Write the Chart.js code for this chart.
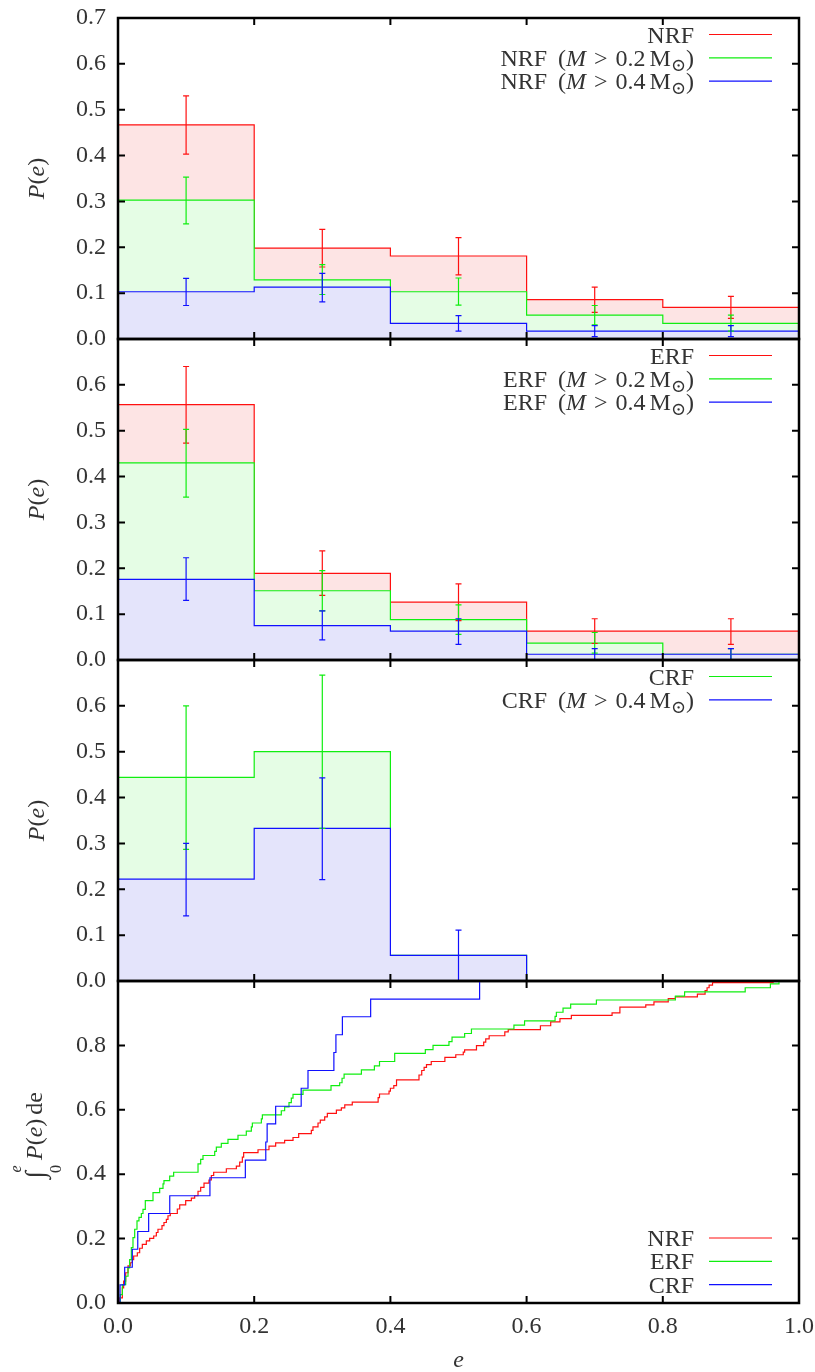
<!DOCTYPE html>
<html lang="en">
<head>
<meta charset="UTF-8" />
<title>Eccentricity distributions</title>
<script src="https://cdn.jsdelivr.net/npm/chart.js"></script>
<style>
  body { margin: 0; background: #fff; }
  #wrap { position: relative; width: 815px; height: 1372px; overflow: hidden; background: #fff; }
  canvas { position: absolute; left: 0; }
</style>
</head>
<body>
<div id="wrap">
  <canvas id="nrf"></canvas>
  <canvas id="erf"></canvas>
  <canvas id="crf"></canvas>
  <canvas id="cum"></canvas>
</div>
<script>
// histogram bins in e
const binEdges = [0, 0.2, 0.4, 0.6, 0.8, 1.0];
const binCentres = [0.1, 0.3, 0.5, 0.7, 0.9];

// NRF
const nrfAll = [0.467, 0.198, 0.181, 0.086, 0.069];
const nrfAllLo = [0.403, 0.157, 0.140, 0.058, 0.045];
const nrfAllHi = [0.530, 0.239, 0.221, 0.113, 0.093];
const nrf02 = [0.303, 0.129, 0.103, 0.052, 0.034];
const nrf02Lo = [0.251, 0.097, 0.074, 0.031, 0.017];
const nrf02Hi = [0.353, 0.162, 0.133, 0.073, 0.052];
const nrf04 = [0.103, 0.113, 0.034, 0.017, 0.017];
const nrf04Lo = [0.073, 0.081, 0.017, 0.005, 0.005];
const nrf04Hi = [0.132, 0.143, 0.051, 0.029, 0.029];

// ERF
const erfAll = [0.557, 0.189, 0.126, 0.063, 0.063];
const erfAllLo = [0.473, 0.141, 0.086, 0.036, 0.034];
const erfAllHi = [0.640, 0.238, 0.166, 0.090, 0.090];
const erf02 = [0.430, 0.151, 0.088, 0.037, 0.0125];
const erf02Lo = [0.355, 0.107, 0.056, 0.015, 0.0];
const erf02Hi = [0.503, 0.195, 0.120, 0.060, 0.025];
const erf04 = [0.176, 0.075, 0.063, 0.0125, 0.0125];
const erf04Lo = [0.130, 0.044, 0.034, 0.0, 0.0];
const erf04Hi = [0.223, 0.107, 0.090, 0.025, 0.025];

// CRF
const crfAll = [0.444, 0.500, 0.056, 0, 0];
const crfAllLo = [0.287, 0.333, null, null, null];
const crfAllHi = [0.600, 0.667, null, null, null];
const crf04 = [0.222, 0.333, 0.056, 0, 0];
const crf04Lo = [0.142, 0.221, 0.0, null, null];
const crf04Hi = [0.300, 0.443, 0.111, null, null];

// cumulative distributions: e at each step and value after it
const nrfCumE = [0.0024, 0.0064, 0.0083, 0.0113, 0.0147, 0.0181, 0.0210, 0.0230, 0.0284, 0.0318,
  0.0357, 0.0416, 0.0465, 0.0524, 0.0563, 0.0587, 0.0646, 0.0675, 0.0710, 0.0734,
  0.0768, 0.0871, 0.0906, 0.0994, 0.1077, 0.1126, 0.1175, 0.1214, 0.1263, 0.1336,
  0.1371, 0.1405, 0.1591, 0.1738, 0.1787, 0.1826, 0.1845, 0.2056, 0.2217, 0.2315,
  0.2447, 0.2570, 0.2653, 0.2839, 0.2863, 0.2937, 0.2971, 0.3035, 0.3074, 0.3207,
  0.328, 0.333, 0.344, 0.382, 0.384, 0.398, 0.400, 0.405, 0.409, 0.442,
  0.446, 0.4495, 0.453, 0.460, 0.480, 0.496, 0.507, 0.509, 0.5264, 0.537,
  0.540, 0.545, 0.568, 0.573, 0.6203, 0.6354, 0.649, 0.6657, 0.7255, 0.737,
  0.775, 0.787, 0.808, 0.8185, 0.8508, 0.8621, 0.865, 0.868, 0.873, 0.962];
const nrfCumP = [0.016, 0.047, 0.068, 0.094, 0.115, 0.125, 0.135, 0.146, 0.156, 0.170,
  0.182, 0.193, 0.201, 0.208, 0.219, 0.229, 0.240, 0.250, 0.260, 0.271,
  0.278, 0.292, 0.305, 0.318, 0.326, 0.333, 0.347, 0.359, 0.372, 0.382,
  0.396, 0.406, 0.417, 0.425, 0.4375, 0.453, 0.467, 0.476, 0.4875, 0.497,
  0.505, 0.514, 0.526, 0.536, 0.547, 0.559, 0.568, 0.578, 0.589, 0.599,
  0.606, 0.615, 0.624, 0.638, 0.649, 0.658, 0.667, 0.675, 0.693, 0.708,
  0.722, 0.732, 0.740, 0.750, 0.763, 0.771, 0.779, 0.786, 0.799, 0.810,
  0.820, 0.830, 0.842, 0.849, 0.861, 0.873, 0.883, 0.893, 0.901, 0.919,
  0.926, 0.935, 0.945, 0.951, 0.959, 0.970, 0.979, 0.987, 0.995, 1.0];

const erfCumE = [0.0034, 0.0064, 0.0113, 0.0147, 0.0171, 0.0196, 0.0220, 0.0245, 0.0279, 0.0308,
  0.0343, 0.0367, 0.0401, 0.0514, 0.0612, 0.0661, 0.0675, 0.0759, 0.0817, 0.1175,
  0.1214, 0.1248, 0.1420, 0.1444, 0.1517, 0.1615, 0.1762, 0.1884, 0.1958, 0.1973,
  0.2105, 0.2120, 0.2398, 0.2447, 0.2511, 0.2545, 0.2570, 0.2717, 0.3128, 0.3255,
  0.329, 0.332, 0.3574, 0.3765, 0.384, 0.4063, 0.4513, 0.4626, 0.486, 0.4905,
  0.509, 0.519, 0.5814, 0.597, 0.6418, 0.6437, 0.6535, 0.6647, 0.7025, 0.8185,
  0.832, 0.921, 0.958, 0.9706];
const erfCumP = [0.026, 0.057, 0.083, 0.109, 0.135, 0.172, 0.203, 0.229, 0.255, 0.266,
  0.278, 0.291, 0.318, 0.343, 0.356, 0.370, 0.380, 0.394, 0.406, 0.432,
  0.446, 0.458, 0.471, 0.484, 0.496, 0.508, 0.521, 0.534, 0.547, 0.559,
  0.572, 0.584, 0.597, 0.609, 0.622, 0.636, 0.648, 0.661, 0.675, 0.684,
  0.698, 0.711, 0.724, 0.7365, 0.750, 0.775, 0.787, 0.800, 0.812, 0.826,
  0.837, 0.851, 0.863, 0.876, 0.890, 0.903, 0.916, 0.928, 0.941, 0.953,
  0.966, 0.979, 0.991, 1.0];

const crfCumE = [0.003, 0.0098, 0.021, 0.029, 0.045, 0.076, 0.135, 0.187, 0.217, 0.219,
  0.2315, 0.269, 0.279, 0.317, 0.320, 0.3295, 0.371, 0.531];
const crfCumP = [0.056, 0.111, 0.167, 0.222, 0.278, 0.333, 0.389, 0.444, 0.500, 0.556,
  0.611, 0.667, 0.722, 0.778, 0.833, 0.889, 0.944, 1.0];

const RED = '#ff1010', GREEN = '#10ee10', BLUE = '#1010ff';
const RED_FILL = '#fde4e4', GREEN_FILL = '#e5fde5', BLUE_FILL = '#e4e4fb';
const FONT = "'Liberation Serif', 'DejaVu Serif', serif";
const INK = '#333333';
const SIZE = 24;

function histSteps(vals) {
  const pts = vals.map((v, i) => ({ x: binEdges[i], y: v }));
  pts.push({ x: binEdges[vals.length], y: vals[vals.length - 1] });
  return pts;
}

function cumSteps(es, ps) {
  const pts = [{ x: 0, y: 0 }];
  es.forEach((e, i) => pts.push({ x: e, y: ps[i] }));
  pts.push({ x: 1, y: ps[ps.length - 1] });
  return pts;
}

function histSet(vals, lo, hi, line, fill, order) {
  return {
    data: histSteps(vals), errLo: lo, errHi: hi,
    borderColor: line, backgroundColor: fill, fill: 'origin',
    stepped: true, borderWidth: 1.2, pointRadius: 0, order
  };
}

function cumSet(es, ps, line, order) {
  return {
    data: cumSteps(es, ps), borderColor: line, fill: false,
    stepped: true, borderWidth: 1.2, pointRadius: 0, order
  };
}

function fontFor(p, base) {
  return (p.it ? 'italic ' : '') + (p.sz || base) + 'px ' + FONT;
}

// draws a row of text pieces (italic, sub/superscripts) as one string
function drawRich(ctx, pieces, x, y, align, base) {
  base = base || SIZE;
  const w = pieces.map(p => {
    ctx.font = fontFor(p, base);
    return ctx.measureText(p.t).width + (p.gap || 0);
  });
  const total = w.reduce((a, b) => a + b, 0);
  let cx = align === 'right' ? x - total : align === 'center' ? x - total / 2 : x;
  ctx.textAlign = 'left';
  pieces.forEach((p, i) => {
    ctx.font = fontFor(p, base);
    ctx.fillText(p.t, cx, y + (p.dy || 0));
    cx += w[i];
  });
}

const plain = name => [{ t: name }];
const massCut = (name, m) => [
  { t: name, gap: 11 }, { t: '(' }, { t: 'M', it: true, gap: 8 }, { t: '>', gap: 8 },
  { t: m, gap: 4 }, { t: 'M' }, { t: '\u2299', sz: 18, dy: 5 }, { t: ')' }
];

const panelDecor = {
  id: 'panelDecor',
  afterDatasetsDraw(chart, args, opts) {
    const ctx = chart.ctx, a = chart.chartArea;
    const xs = chart.scales.x, ys = chart.scales.y;
    ctx.save();

    // error bars
    ctx.lineWidth = 1.2;
    chart.data.datasets.forEach(ds => {
      if (!ds.errLo) return;
      ctx.strokeStyle = ds.borderColor;
      binCentres.forEach((c, i) => {
        if (ds.errLo[i] == null) return;
        const x = xs.getPixelForValue(c);
        const y0 = ys.getPixelForValue(ds.errLo[i]);
        const y1 = ys.getPixelForValue(ds.errHi[i]);
        ctx.beginPath();
        ctx.moveTo(x, y0); ctx.lineTo(x, y1);
        ctx.moveTo(x - 3, y0); ctx.lineTo(x + 3, y0);
        ctx.moveTo(x - 3, y1); ctx.lineTo(x + 3, y1);
        ctx.stroke();
      });
    });

    // inward ticks on all four sides
    ctx.strokeStyle = '#000';
    ctx.lineWidth = 2;
    ctx.beginPath();
    for (let v = 0.2; v < 0.99; v += 0.2) {
      const x = xs.getPixelForValue(v);
      ctx.moveTo(x, a.bottom); ctx.lineTo(x, a.bottom - 7);
      ctx.moveTo(x, a.top); ctx.lineTo(x, a.top + 7);
    }
    for (let k = 1; k * opts.yStep < opts.yMax - 1e-6; k++) {
      const y = ys.getPixelForValue(k * opts.yStep);
      ctx.moveTo(a.left, y); ctx.lineTo(a.left + 7, y);
      ctx.moveTo(a.right, y); ctx.lineTo(a.right - 7, y);
    }
    ctx.stroke();
    ctx.lineWidth = 2.5;
    ctx.strokeRect(a.left, a.top, a.right - a.left, a.bottom - a.top);

    // key
    ctx.fillStyle = INK;
    ctx.textBaseline = 'alphabetic';
    opts.key.forEach((row, k) => {
      const y = opts.keyAtBottom ? a.bottom - 65 + 23.3 * k : a.top + 16.5 + 23.3 * k;
      drawRich(ctx, row.pieces, 694, y + 8, 'right');
      ctx.strokeStyle = row.color;
      ctx.lineWidth = 1.2;
      ctx.beginPath();
      ctx.moveTo(709, y); ctx.lineTo(772, y);
      ctx.stroke();
    });

    // y title, rotated
    const cy = (a.top + a.bottom) / 2;
    ctx.save();
    ctx.translate(38, cy);
    ctx.rotate(-Math.PI / 2);
    ctx.textBaseline = 'middle';
    if (opts.integral) {
      ctx.font = '27px ' + FONT;
      ctx.textAlign = 'center';
      ctx.fillText('\u222B', -33, -1);
      ctx.font = 'italic 16px ' + FONT;
      ctx.fillText('e', -27, -21);
      ctx.font = '16px ' + FONT;
      ctx.fillText('0', -27, 19);
      drawRich(ctx, [{ t: 'P', it: true }, { t: '(' }, { t: 'e', it: true }, { t: ')', gap: 4 }, { t: 'de' }], -18, -2, 'left');
    } else {
      drawRich(ctx, [{ t: 'P', it: true }, { t: '(' }, { t: 'e', it: true }, { t: ')' }], 0, 0, 'center');
    }
    ctx.restore();

    if (opts.xTitle) {
      ctx.textBaseline = 'middle';
      drawRich(ctx, [{ t: 'e', it: true }], (a.left + a.right) / 2, 1361 - 967, 'center');
    }
    ctx.restore();
  }
};

// scale paddings are zeroed so the plot area depends only on layout padding
function noOverhang(s) {
  s.paddingTop = 0; s.paddingBottom = 0; s.paddingLeft = 0; s.paddingRight = 0;
}

function makePanel(id, top, height, datasets, cfg) {
  const cv = document.getElementById(id);
  cv.width = 815;
  cv.height = height;
  cv.style.top = top + 'px';
  return new Chart(cv, {
    type: 'line',
    data: { datasets },
    plugins: [panelDecor],
    options: {
      responsive: false,
      animation: false,
      events: [],
      layout: { padding: { left: 0, right: 16, top: 14, bottom: cfg.bottomAxis ? 0 : 14 } },
      plugins: {
        legend: { display: false },
        tooltip: { enabled: false },
        panelDecor: {
          key: cfg.key, keyAtBottom: !!cfg.keyAtBottom, yMax: cfg.yMax, yStep: cfg.yStep,
          integral: !!cfg.integral, xTitle: !!cfg.bottomAxis
        }
      },
      scales: {
        x: {
          type: 'linear', min: 0, max: 1,
          afterFit: s => { s.height = cfg.bottomAxis ? 69 : 0; noOverhang(s); },
          grid: { display: false, drawTicks: false },
          border: { display: false },
          ticks: {
            display: !!cfg.bottomAxis, stepSize: 0.2, padding: 9, color: INK,
            font: { family: FONT, size: SIZE },
            callback: v => v.toFixed(1)
          }
        },
        y: {
          type: 'linear', min: 0, max: cfg.yMax,
          afterFit: s => { s.width = 118; noOverhang(s); },
          grid: { display: false, drawTicks: false },
          border: { display: false },
          ticks: {
            stepSize: cfg.yStep, padding: 12, color: INK,
            font: { family: FONT, size: SIZE },
            callback: v => (cfg.hideTop && Math.abs(v - cfg.yMax) < 1e-6) ? '' : v.toFixed(1)
          }
        }
      }
    }
  });
}

makePanel('nrf', 4, 349, [
  histSet(nrfAll, nrfAllLo, nrfAllHi, RED, RED_FILL, 3),
  histSet(nrf02, nrf02Lo, nrf02Hi, GREEN, GREEN_FILL, 2),
  histSet(nrf04, nrf04Lo, nrf04Hi, BLUE, BLUE_FILL, 1)
], {
  yMax: 0.7, yStep: 0.1,
  key: [
    { pieces: plain('NRF'), color: RED },
    { pieces: massCut('NRF', '0.2'), color: GREEN },
    { pieces: massCut('NRF', '0.4'), color: BLUE }
  ]
});

makePanel('erf', 325, 349, [
  histSet(erfAll, erfAllLo, erfAllHi, RED, RED_FILL, 3),
  histSet(erf02, erf02Lo, erf02Hi, GREEN, GREEN_FILL, 2),
  histSet(erf04, erf04Lo, erf04Hi, BLUE, BLUE_FILL, 1)
], {
  yMax: 0.7, yStep: 0.1, hideTop: true,
  key: [
    { pieces: plain('ERF'), color: RED },
    { pieces: massCut('ERF', '0.2'), color: GREEN },
    { pieces: massCut('ERF', '0.4'), color: BLUE }
  ]
});

makePanel('crf', 646, 349, [
  histSet(crfAll, crfAllLo, crfAllHi, GREEN, GREEN_FILL, 2),
  histSet(crf04, crf04Lo, crf04Hi, BLUE, BLUE_FILL, 1)
], {
  yMax: 0.7, yStep: 0.1, hideTop: true,
  key: [
    { pieces: plain('CRF'), color: GREEN },
    { pieces: massCut('CRF', '0.4'), color: BLUE }
  ]
});

makePanel('cum', 967, 405, [
  cumSet(nrfCumE, nrfCumP, RED, 3),
  cumSet(erfCumE, erfCumP, GREEN, 2),
  cumSet(crfCumE, crfCumP, BLUE, 1)
], {
  yMax: 1.0, yStep: 0.2, hideTop: true, integral: true, bottomAxis: true, keyAtBottom: true,
  key: [
    { pieces: plain('NRF'), color: RED },
    { pieces: plain('ERF'), color: GREEN },
    { pieces: plain('CRF'), color: BLUE }
  ]
});
</script>
</body>
</html>
